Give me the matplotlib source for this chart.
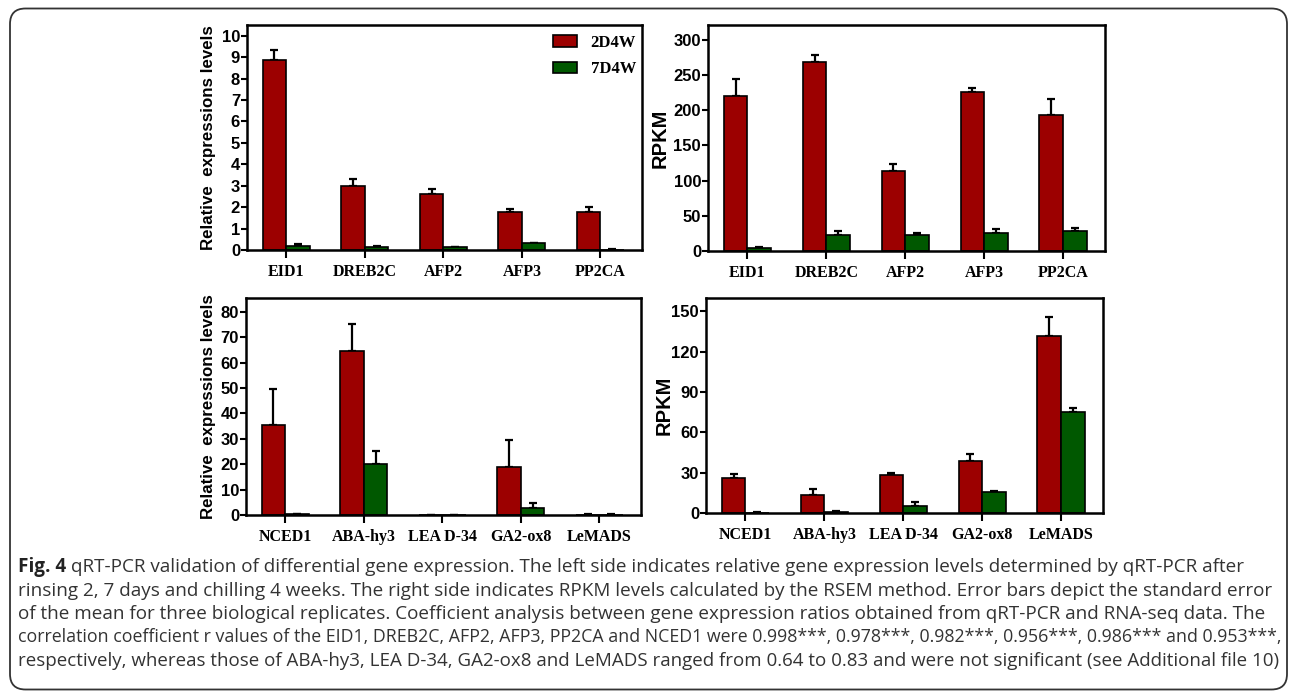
import numpy as np
import matplotlib.pyplot as plt
from matplotlib.patches import Patch, FancyBboxPatch

genes_top = ['EID1', 'DREB2C', 'AFP2', 'AFP3', 'PP2CA']
genes_bottom = ['NCED1', 'ABA-hy3', 'LEA D-34', 'GA2-ox8', 'LeMADS']

# qRT-PCR, top genes (mean and SE)
qpcr_top_2d = [8.88, 2.99, 2.60, 1.76, 1.79]
qpcr_top_2d_err = [0.47, 0.31, 0.23, 0.16, 0.20]
qpcr_top_7d = [0.20, 0.15, 0.12, 0.31, 0.01]
qpcr_top_7d_err = [0.06, 0.03, 0.03, 0.04, 0.05]

# RPKM, top genes
rpkm_top_2d = [220, 269, 114, 226, 193]
rpkm_top_2d_err = [25, 9, 9, 5, 23]
rpkm_top_7d = [4, 23, 23, 26, 29]
rpkm_top_7d_err = [1, 5, 2, 5, 4]

# qRT-PCR, bottom genes
qpcr_bot_2d = [35.4, 64.5, 0.0, 18.8, 0.1]
qpcr_bot_2d_err = [14.2, 10.6, 0.0, 10.7, 0.2]
qpcr_bot_7d = [0.3, 19.9, 0.0, 2.9, 0.1]
qpcr_bot_7d_err = [0.2, 5.3, 0.0, 1.7, 0.2]

# RPKM, bottom genes
rpkm_bot_2d = [26.3, 13.6, 28.0, 38.4, 131.7]
rpkm_bot_2d_err = [3.0, 4.3, 2.0, 5.5, 13.8]
rpkm_bot_7d = [0.2, 0.5, 5.5, 15.6, 75.1]
rpkm_bot_7d_err = [0.3, 1.2, 2.7, 1.0, 3.0]

labels = ['2D4W', '7D4W']
RED = '#9c0000'
GREEN = '#005800'

W, H = 1290, 691
fig = plt.figure(figsize=(W / 100, H / 100), dpi=100)


def panel(rect, genes, v1, e1, v2, e2, ylim, yticks, ylabel, ylabel_x, ylabel_size):
    l, r, t, b = rect
    ax = fig.add_axes([l / W, 1 - b / H, (r - l) / W, (b - t) / H])
    x = np.arange(len(genes))
    w = 0.3
    ax.bar(x - w / 2, v1, w, color=RED, edgecolor='black', linewidth=1.2, zorder=2)
    ax.bar(x + w / 2, v2, w, color=GREEN, edgecolor='black', linewidth=1.2, zorder=2)
    ax.errorbar(x - w / 2, v1, yerr=[np.zeros(len(v1)), e1], fmt='none',
                ecolor='black', elinewidth=1.6, capsize=3, capthick=1.6, zorder=1)
    ax.errorbar(x + w / 2, v2, yerr=[np.zeros(len(v2)), e2], fmt='none',
                ecolor='black', elinewidth=1.6, capsize=3, capthick=1.6, zorder=1)
    ax.set_xlim(-0.5, len(genes) - 0.47)
    ax.set_ylim(*ylim)
    ax.set_yticks(yticks)
    ax.set_xticks(x)
    ax.set_xticklabels(genes, family='Liberation Serif', fontweight='bold', fontsize=11.5)
    for lab in ax.get_yticklabels():
        lab.set_family('Liberation Sans')
        lab.set_fontweight('bold')
        lab.set_fontsize(12)
    ax.tick_params(axis='y', direction='out', length=4, width=1.5, pad=1)
    ax.tick_params(axis='x', direction='out', length=6, width=1.5, pad=4)
    for s in ax.spines.values():
        s.set_linewidth(1.8)
    fig.text(ylabel_x / W, 1 - (t + b) / 2 / H, ylabel, rotation=90, ha='center', va='center',
             family='Liberation Sans', fontweight='bold', fontsize=ylabel_size)
    return ax


panel((247, 642, 25, 250), genes_top, qpcr_top_2d, qpcr_top_2d_err,
      qpcr_top_7d, qpcr_top_7d_err, (0, 10.5), range(0, 11),
      'Relative  expressions levels', 208, 12.2)
panel((708, 1105, 25, 251), genes_top, rpkm_top_2d, rpkm_top_2d_err,
      rpkm_top_7d, rpkm_top_7d_err, (0, 321), range(0, 301, 50), 'RPKM', 660, 14.5)
panel((246, 641, 298, 515), genes_bottom, qpcr_bot_2d, qpcr_bot_2d_err,
      qpcr_bot_7d, qpcr_bot_7d_err, (0, 85.4), range(0, 81, 10),
      'Relative  expressions levels', 208, 12.2)
panel((706, 1103, 298, 513), genes_bottom, rpkm_bot_2d, rpkm_bot_2d_err,
      rpkm_bot_7d, rpkm_bot_7d_err, (0, 160), range(0, 151, 30), 'RPKM', 664, 14.5)

handles = [Patch(facecolor=RED, edgecolor='black', linewidth=1.2),
           Patch(facecolor=GREEN, edgecolor='black', linewidth=1.2)]
fig.legend(handles, labels, loc='upper left', frameon=False,
           bbox_to_anchor=(553 / W, 1 - 35 / H), bbox_transform=fig.transFigure,
           borderpad=0, borderaxespad=0,
           prop={'family': 'Liberation Serif', 'weight': 'bold', 'size': 12},
           handlelength=1.45, handleheight=0.72, labelspacing=0.62, handletextpad=0.8)

# outer frame
frame = FancyBboxPatch((10 / W, 1.5 / H), 1277 / W, (H - 10) / H,
                       boxstyle='round,pad=0,rounding_size=0.012',
                       transform=fig.transFigure, fill=False, edgecolor='#333333',
                       linewidth=1.3, mutation_aspect=W / H)
fig.patches.append(frame)

caption = [
    'qRT-PCR validation of differential gene expression. The left side indicates relative gene expression levels determined by qRT-PCR after',
    'rinsing 2, 7 days and chilling 4 weeks. The right side indicates RPKM levels calculated by the RSEM method. Error bars depict the standard error',
    'of the mean for three biological replicates. Coefficient analysis between gene expression ratios obtained from qRT-PCR and RNA-seq data. The',
    'correlation coefficient r values of the EID1, DREB2C, AFP2, AFP3, PP2CA and NCED1 were 0.998***, 0.978***, 0.982***, 0.956***, 0.986*** and 0.953***,',
    'respectively, whereas those of ABA-hy3, LEA D-34, GA2-ox8 and LeMADS ranged from 0.64 to 0.83 and were not significant (see Additional file 10)',
]
ys = [567, 590.5, 614, 637.5, 661]
fs = 13.6
x0 = 18
max_right = 1280

# one common size for the caption; a line only shrinks if it would pass the frame
renderer = fig.canvas.get_renderer()
rows = []
for i, (line, y) in enumerate(zip(caption, ys)):
    parts = []
    if i == 0:
        parts.append(fig.text(x0 / W, 1 - y / H, 'Fig. 4', fontweight='bold', fontsize=fs,
                              family='Open Sans', va='center', color='#222222'))
    parts.append(fig.text(x0 / W, 1 - y / H, line, fontsize=fs, family='Open Sans',
                          va='center', color='#333333'))
    width = sum(p.get_window_extent(renderer).width for p in parts) + 5 * (len(parts) - 1)
    rows.append((parts, width))

for parts, width in rows:
    size = min(fs, fs * (max_right - x0) / width)
    x = x0
    for p in parts:
        p.set_fontsize(size)
        p.set_x(x / W)
        x += p.get_window_extent(renderer).width + 5

fig.savefig('out.png', dpi=100)
